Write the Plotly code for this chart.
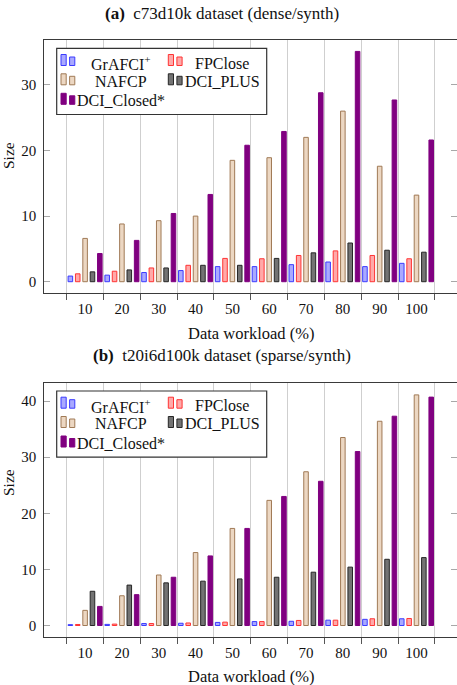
import plotly.graph_objects as go

# ---------------- data ----------------
categories = ["10", "20", "30", "40", "50", "60", "70", "80", "90", "100"]
series_names = ["GrAFCI<sup>+</sup>", "FPClose", "NAFCP", "DCI_PLUS", "DCI_Closed*"]

dense_grafci = [0.86, 1.0, 1.4, 1.7, 2.3, 2.3, 2.6, 3.0, 2.3, 2.8]
dense_fpclose = [1.2, 1.6, 2.1, 2.5, 3.55, 3.5, 4.0, 4.7, 4.0, 3.5]
dense_nafcp = [6.6, 8.8, 9.3, 10.0, 18.5, 18.9, 22.0, 26.0, 17.6, 13.2]
dense_dciplus = [1.5, 1.8, 2.1, 2.5, 2.5, 3.55, 4.4, 5.9, 4.8, 4.5]
dense_dciclosed = [4.3, 6.3, 10.4, 13.3, 20.8, 22.9, 28.8, 35.1, 27.7, 21.6]

sparse_grafci = [0.15, 0.2, 0.35, 0.4, 0.55, 0.7, 0.75, 0.95, 1.1, 1.2]
sparse_fpclose = [0.18, 0.25, 0.35, 0.45, 0.6, 0.7, 0.9, 0.95, 1.2, 1.25]
sparse_nafcp = [2.7, 5.3, 9.0, 13.0, 17.3, 22.3, 27.4, 33.5, 36.4, 41.1]
sparse_dciplus = [6.1, 7.2, 7.6, 7.9, 8.3, 8.6, 9.5, 10.4, 11.8, 12.1]
sparse_dciclosed = [3.4, 5.5, 8.6, 12.4, 17.3, 23.0, 25.7, 31.0, 37.3, 40.7]

dense_ticks = [0, 10, 20, 30]
sparse_ticks = [0, 10, 20, 30, 40]

titles = ["<b>(a)</b>  c73d10k dataset (dense/synth)",
          "<b>(b)</b>  t20i6d100k dataset (sparse/synth)"]
x_title = "Data workload (%)"
y_title = "Size"

# ---------------- styles ----------------
fills = ["#A9A9FF", "#FFA9A9", "#ECD7C2", "#737373", "#800080"]
lines = ["#3b3bff", "#ff3434", "#A07A56", "#262626", "#800080"]
FONT = "Liberation Serif"
W, H = 457, 685


def xp(px):
    return px / W


def yp(py):
    return 1 - py / H


xpos = [i + 1 for i in range(len(categories))]
bounds = [i + 0.5 for i in range(len(categories) + 1)]

fig = go.Figure()
panels = [
    ("x", "y", [dense_grafci, dense_fpclose, dense_nafcp, dense_dciplus, dense_dciclosed]),
    ("x2", "y2", [sparse_grafci, sparse_fpclose, sparse_nafcp, sparse_dciplus, sparse_dciclosed]),
]
for xa, ya, data in panels:
    for k, vals in enumerate(data):
        fig.add_trace(go.Bar(
            x=xpos, y=vals, name=series_names[k], xaxis=xa, yaxis=ya,
            marker=dict(color=fills[k], line=dict(color=lines[k], width=1)),
            showlegend=False, hoverinfo="x+y",
        ))

# empty traces so the right-hand tick axes get drawn
for xa, ya in [("x", "y3"), ("x2", "y4")]:
    fig.add_trace(go.Scatter(x=[], y=[], xaxis=xa, yaxis=ya, showlegend=False, hoverinfo="skip"))

# panel geometry in pixels
left_px = 44.3
panel_px = [(40, 293), (382.7, 636.5)]
yranges = [[-1.72, 36.84], [-1.96, 43.27]]
yticks = [dense_ticks, sparse_ticks]
xrange_ = [-0.108, 11.1]

tickfont = dict(family=FONT, size=15, color="#111")
frame = "#3a3a3a"

for i, (top, bot) in enumerate(panel_px):
    s = "" if i == 0 else "2"
    ov = str(3 + i)
    fig.layout["xaxis" + s] = dict(
        domain=[xp(left_px), 1.0], anchor="y" + s, range=xrange_,
        tickvals=xpos, ticktext=categories, ticks="", showgrid=False,
        showline=True, mirror=True, linecolor=frame, linewidth=1.3,
        zeroline=False, tickfont=tickfont, ticklabelstandoff=2,
        minor=dict(tickvals=bounds, ticks="outside", ticklen=6, tickcolor="#555",
                   showgrid=True, gridcolor="#cfcfcf", gridwidth=1),
        fixedrange=True,
    )
    fig.layout["yaxis" + s] = dict(
        domain=[yp(bot), yp(top)], anchor="x" + s, range=yranges[i],
        tickvals=yticks[i], ticks="inside", ticklen=6, tickcolor="#a8a8a8",
        showgrid=False, showline=True, linecolor=frame, linewidth=1.3,
        zeroline=False, tickfont=tickfont, ticklabelstandoff=4,
    )
    fig.layout["yaxis" + ov] = dict(
        overlaying="y" + s, anchor="x" + s, side="right", range=yranges[i],
        tickvals=yticks[i], ticks="inside", ticklen=6, tickcolor="#a8a8a8",
        showticklabels=False, showgrid=False, showline=False, zeroline=False,
    )

annotations = []
shapes = []
title_y = [13, 355]
xlabel_y = [333, 676]
ylabel_y = [156, 483]
for i, (top, bot) in enumerate(panel_px):
    annotations.append(dict(text=titles[i], x=xp(222), y=yp(title_y[i]), xref="paper", yref="paper",
                            showarrow=False, xanchor="center", yanchor="middle",
                            font=dict(family=FONT, size=17, color="#111")))
    annotations.append(dict(text=x_title, x=xp(251), y=yp(xlabel_y[i]), xref="paper", yref="paper",
                            showarrow=False, xanchor="center", yanchor="middle",
                            font=dict(family=FONT, size=16.5, color="#111")))
    annotations.append(dict(text=y_title, x=xp(8), y=yp(ylabel_y[i]), xref="paper", yref="paper",
                            showarrow=False, xanchor="center", yanchor="middle", textangle=-90,
                            font=dict(family=FONT, size=15.5, color="#111")))
    # legend box
    shapes.append(dict(type="rect", xref="paper", yref="paper",
                       x0=xp(56.7), x1=xp(266.7), y0=yp(top + 74.5), y1=yp(top + 8.3),
                       line=dict(color="#333", width=1.2), fillcolor="white", layer="above"))
    rows = [top + 21.7, top + 41, top + 60.5]
    entries = [(0, 0, 0), (1, 0, 1), (2, 1, 0), (3, 1, 1), (4, 2, 0)]
    for k, r, c in entries:
        cy = rows[r]
        base = cy + 3.8
        sx = 61 if c == 0 else 168.3
        for (bx0, bx1, hgt) in [(0, 5.2, 11), (8.6, 13.8, 8.5)]:
            shapes.append(dict(type="rect", xref="paper", yref="paper",
                               x0=xp(sx + bx0), x1=xp(sx + bx1), y0=yp(base), y1=yp(base - hgt),
                               fillcolor=fills[k], line=dict(color=lines[k], width=1), layer="above"))
        tx = 120.5 if c == 0 else 222
        if k == 4:
            tx = 121
        ty = cy + 1.5 if r == 0 else cy
        annotations.append(dict(text=series_names[k], x=xp(tx), y=yp(ty), xref="paper", yref="paper",
                                showarrow=False, xanchor="center", yanchor="middle",
                                font=dict(family=FONT, size=16, color="#111")))

fig.update_layout(
    width=W, height=H, margin=dict(l=0, r=0, t=0, b=0, autoexpand=False),
    paper_bgcolor="white", plot_bgcolor="white",
    barmode="group", bargap=0, bargroupgap=0.38,
    showlegend=False, annotations=annotations, shapes=shapes,
)
fig.write_html("out.html", config={"displayModeBar": False},
               post_script="document.body.style.margin='0';document.body.style.padding='0';")
